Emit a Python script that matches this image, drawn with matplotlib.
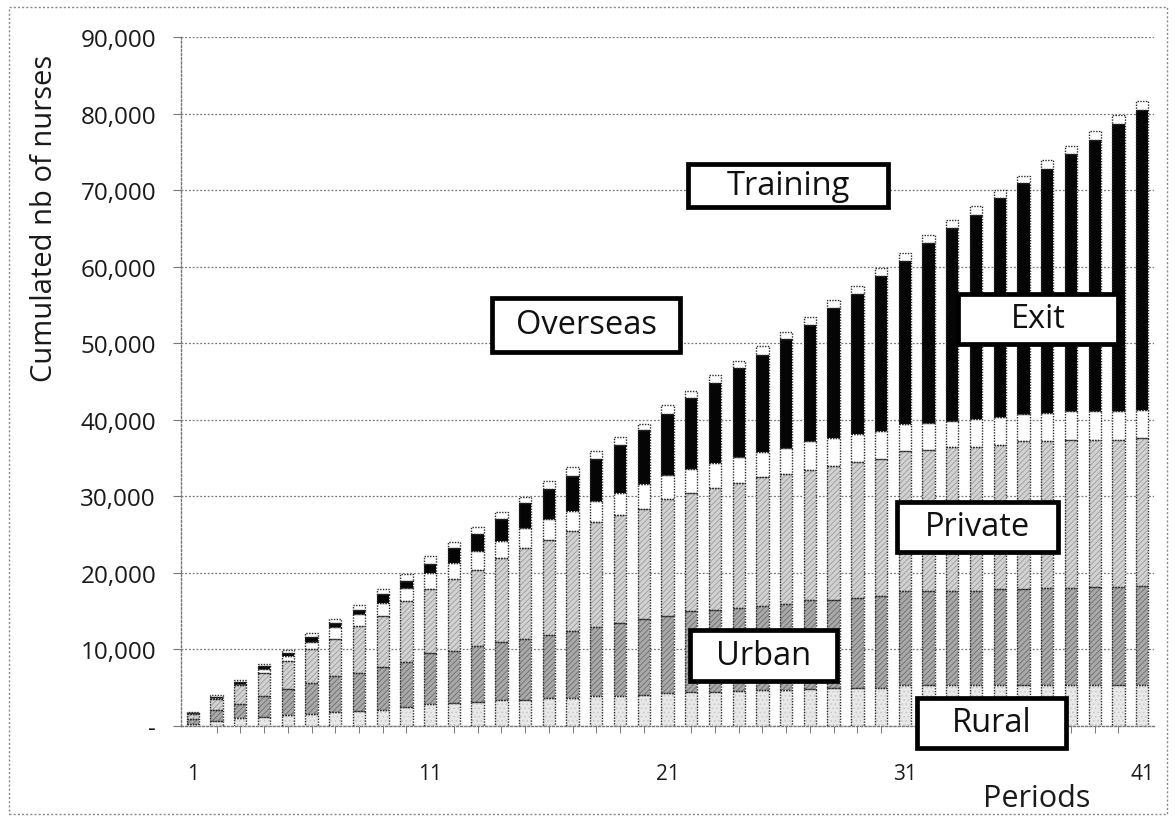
import matplotlib
matplotlib.use("Agg")
import matplotlib.pyplot as plt
from matplotlib.patches import Rectangle
from matplotlib.ticker import FixedLocator, FuncFormatter
import numpy as np

plt.rcParams['font.family'] = ['Open Sans', 'DejaVu Sans']
plt.rcParams['hatch.linewidth'] = 0.6

# ---------------- data (number of nurses, stacked from bottom) ----------------
periods = list(range(1, 42))
rural = [300, 600, 1000, 1200, 1400, 1600, 1800, 1900, 2100, 2500,
         2900, 3000, 3200, 3400, 3400, 3600, 3600, 3900, 3900, 4100,
         4300, 4500, 4500, 4600, 4700, 4700, 4800, 5000, 5000, 5000,
         5300, 5300, 5300, 5300, 5300, 5300, 5300, 5300, 5300, 5300, 5300]
urban = [600, 1500, 1900, 2750, 3400, 4000, 4700, 5000, 5600, 5900,
         6600, 6800, 7200, 7600, 7900, 8300, 8800, 9000, 9500, 9900,
         10100, 10500, 10700, 10800, 11000, 11300, 11600, 11500, 11700, 12000,
         12300, 12300, 12300, 12300, 12600, 12600, 12700, 12700, 12900, 12900, 13000]
private = [700, 1400, 2400, 2950, 3700, 4400, 4900, 6200, 6700, 7900,
           8400, 9400, 10000, 10900, 11900, 12400, 13100, 13700, 14200, 14400,
           15300, 15500, 15900, 16300, 16800, 16900, 17100, 17500, 17800, 17900,
           18300, 18500, 18800, 18800, 18800, 19300, 19200, 19400, 19200, 19200, 19300]
overseas = [50, 100, 150, 600, 650, 1000, 1500, 1500, 1700, 1700,
            2100, 2100, 2500, 2300, 2600, 2700, 2600, 2800, 2900, 3200,
            3100, 3100, 3200, 3400, 3300, 3400, 3700, 3600, 3700, 3600,
            3600, 3500, 3500, 3700, 3700, 3500, 3700, 3700, 3700, 3800, 3700]
exit_ = [100, 250, 300, 350, 450, 600, 500, 600, 1100, 900,
         1200, 1900, 2200, 2800, 3300, 4000, 4600, 5500, 6200, 7000,
         8000, 9200, 10500, 11600, 12700, 14200, 15200, 17000, 18200, 20300,
         21300, 23500, 25100, 26700, 28600, 30200, 31900, 33600, 35500, 37500, 39200]
training = [100, 200, 200, 200, 350, 500, 550, 650, 700, 900,
            1000, 900, 900, 1000, 800, 1000, 1100, 1000, 1100, 900,
            1100, 1000, 1000, 1000, 1200, 1000, 1000, 1000, 1100, 1000,
            1000, 1100, 1100, 1100, 1000, 1000, 1100, 1100, 1100, 1100, 1200]

series_names = ["Rural", "Urban", "Private", "Overseas", "Exit", "Training"]
series_values = [rural, urban, private, overseas, exit_, training]

y_ticks = [0, 10000, 20000, 30000, 40000, 50000, 60000, 70000, 80000, 90000]
x_tick_labels = [1, 11, 21, 31, 41]

# ---------------- styles ----------------
styles = {
    "Rural":    dict(fc="#e8e8e8", hatch="....", hc="#c8c8c8"),
    "Urban":    dict(fc="#a9a9a9", hatch="//////", hc="#6e6e6e"),
    "Private":  dict(fc="#d2d2d2", hatch="//////", hc="#9c9c9c"),
    "Overseas": dict(fc="white", hatch=None, hc="white"),
    "Exit":     dict(fc="#050505", hatch=None, hc="#050505"),
    "Training": dict(fc="white", hatch=None, hc="white"),
}

W, H = 1175, 820
fig = plt.figure(figsize=(W / 100, H / 100), dpi=100)
ax = fig.add_axes([181 / W, 1 - 727 / H, (1154 - 181) / W, (727 - 38) / H])

x = np.array(periods, dtype=float)
bottom = np.zeros(len(x))
width = 0.52
for name, vals in zip(series_names, series_values):
    st = styles[name]
    v = np.array(vals, dtype=float)
    ax.bar(x, v, width, bottom=bottom, color=st["fc"], hatch=st["hatch"],
           edgecolor=st["hc"], linewidth=0, zorder=3)
    ax.bar(x, v, width, bottom=bottom, fill=False, edgecolor="#2a2a2a",
           linewidth=1.0, linestyle=(0, (1, 1)), zorder=4)
    bottom = bottom + v

ax.set_xlim(0.5, 41.5)
ax.set_ylim(0, 90000)

# grid and spines
ax.yaxis.set_major_locator(FixedLocator(y_ticks))
ax.yaxis.set_major_formatter(FuncFormatter(lambda v, p: "-" if v == 0 else f"{int(v):,}"))
ax.grid(axis="y", color="#777777", linestyle=(0, (1.5, 1.5)), linewidth=0.9, zorder=0)
ax.grid(axis="x", visible=False)
for s in ["top", "right"]:
    ax.spines[s].set_visible(False)
for s in ["left", "bottom"]:
    ax.spines[s].set_color("#777777")
    ax.spines[s].set_linestyle((0, (1.5, 1.5)))
    ax.spines[s].set_linewidth(1.0)

ax.tick_params(axis="y", length=6, width=0.8, color="#777777", pad=12,
               labelsize=17.5, labelcolor="#1a1a1a")
ax.xaxis.set_major_locator(FixedLocator(x_tick_labels))
ax.xaxis.set_minor_locator(FixedLocator(periods))
ax.set_xticklabels([str(t) for t in x_tick_labels])
ax.tick_params(axis="x", which="major", length=0, pad=27, labelsize=15,
               labelcolor="#1a1a1a")
ax.tick_params(axis="x", which="minor", length=5, width=0.7, color="#777777")

fig.text(45 / W, 1 - 218 / H, "Cumulated nb of nurses", rotation=90,
         ha="center", va="center", fontsize=21, color="#1a1a1a")
fig.text(1037 / W, 1 - 799 / H, "Periods", ha="center", va="center",
         fontsize=22, color="#1a1a1a")

# label boxes (pixel boxes: x0, x1, y0, y1 from top)
boxes = [
    ("Training", 688, 888, 165, 208),
    ("Overseas", 492, 680, 299, 353),
    ("Exit", 958, 1118, 295, 345),
    ("Private", 897, 1058, 503, 553),
    ("Urban", 690, 837, 631, 682),
    ("Rural", 917, 1066, 699, 749),
]
for label, x0, x1, y0, y1 in boxes:
    r = Rectangle((x0 / W, 1 - y1 / H), (x1 - x0) / W, (y1 - y0) / H,
                  transform=fig.transFigure, facecolor="white",
                  edgecolor="black", linewidth=3.4, zorder=10)
    fig.add_artist(r)
    fig.text((x0 + x1) / 2 / W, 1 - (y0 + y1) / 2 / H, label, ha="center",
             va="center", fontsize=23.5, color="#111111", zorder=11)

# outer dotted frame
frame = Rectangle((9 / W, 1 - 815 / H), (1167 - 9) / W, (815 - 8) / H,
                  transform=fig.transFigure, fill=False, edgecolor="#888888",
                  linewidth=1.0, linestyle=(0, (1.5, 1.5)), zorder=0)
fig.add_artist(frame)

fig.savefig("out.png", dpi=100)
